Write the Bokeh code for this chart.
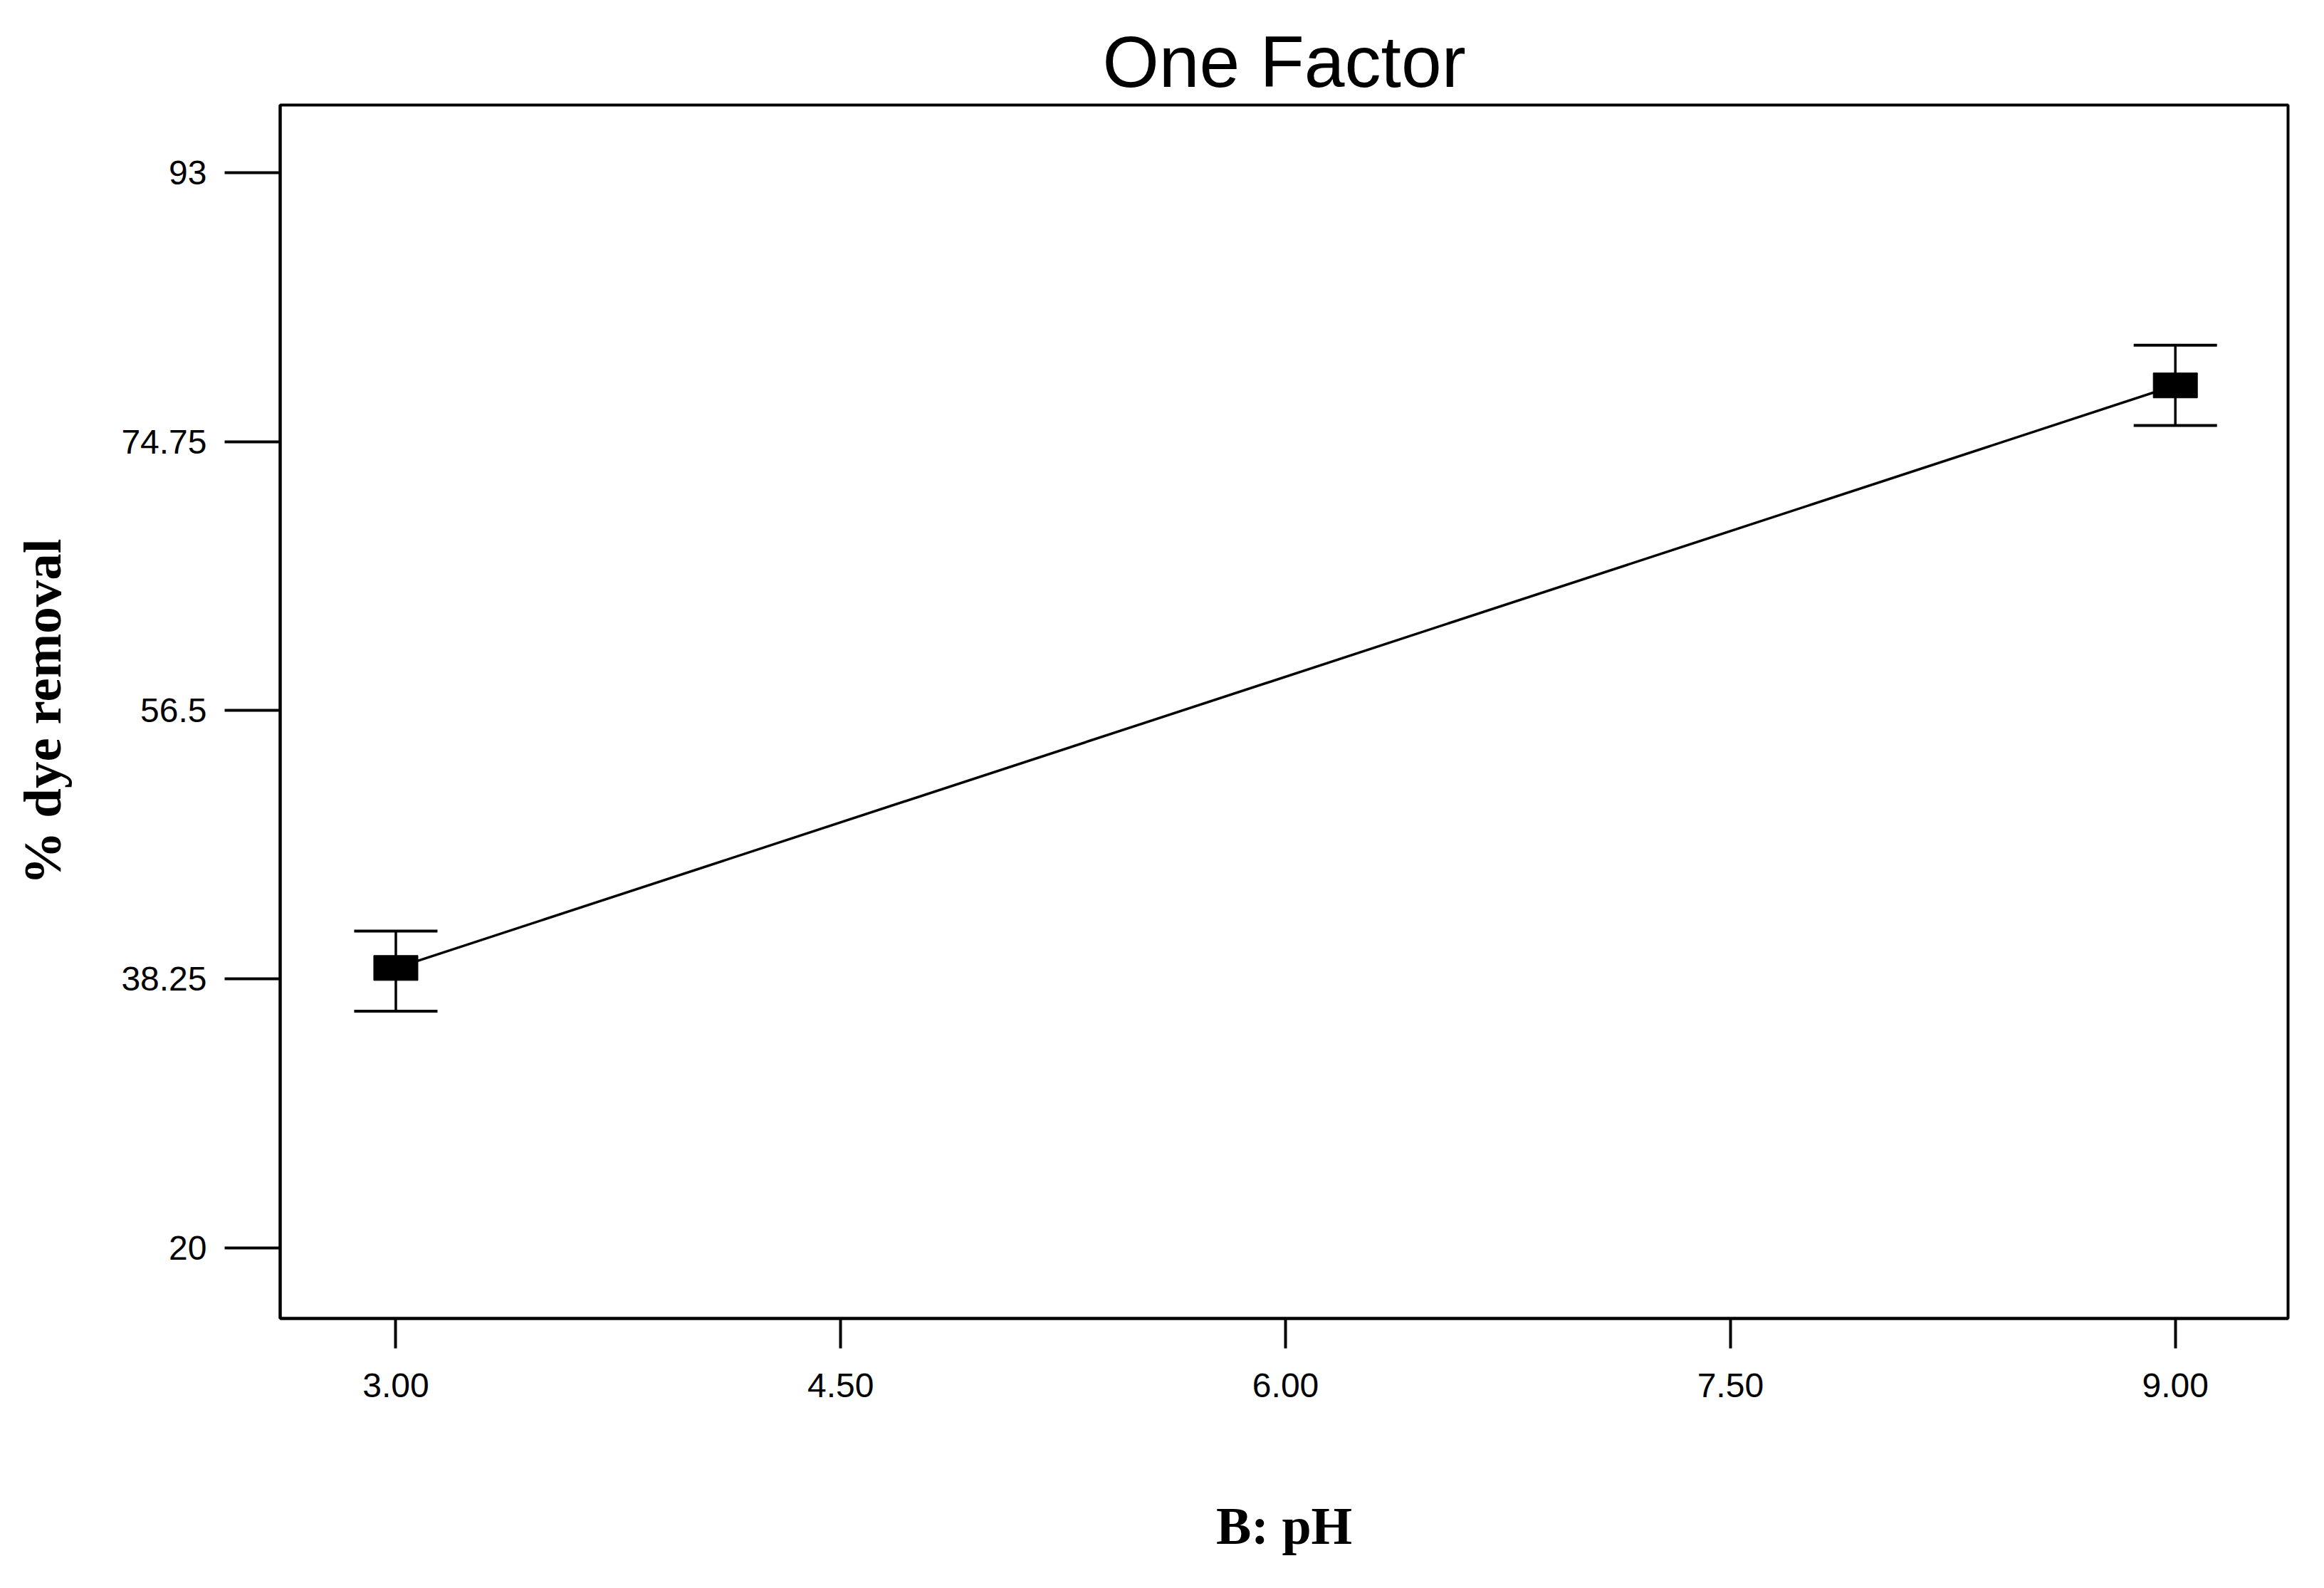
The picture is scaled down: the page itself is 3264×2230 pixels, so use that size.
from bokeh.plotting import figure
from bokeh.models import Range1d, FixedTicker, Whisker, TeeHead, ColumnDataSource
from bokeh.embed import file_html
from bokeh.resources import INLINE

# ---- data ----
ph = [3.0, 9.0]
removal = [39.0, 78.56]
lower = [36.07, 75.84]
upper = [41.51, 81.29]

x_ticks = [3.0, 4.5, 6.0, 7.5, 9.0]
x_tick_labels = ["3.00", "4.50", "6.00", "7.50", "9.00"]
y_ticks = [20.0, 38.25, 56.5, 74.75, 93.0]
y_tick_labels = ["20", "38.25", "56.5", "74.75", "93"]

title_text = "One Factor"
x_label = "B: pH"
y_label = "% dye removal"

src = ColumnDataSource(data=dict(x=ph, y=removal, lower=lower, upper=upper))

p = figure(
    frame_width=2820, frame_height=1704,
    x_range=Range1d(2.61, 9.38), y_range=Range1d(15.2, 97.6),
    output_backend="svg", toolbar_location=None,
    min_border_left=393, min_border_right=35,
    min_border_top=147, min_border_bottom=363,
    title=title_text,
    background_fill_color="white", border_fill_color="white",
)

p.title.text_font = "Liberation Sans"
p.title.text_font_size = "102px"
p.title.text_font_style = "normal"
p.title.text_color = "black"
p.title.align = "center"
p.title.standoff = 8

p.xgrid.grid_line_color = None
p.ygrid.grid_line_color = None
p.outline_line_color = "black"
p.outline_line_width = 4
p.outline_line_alpha = 1.0

for ax in (p.xaxis[0], p.yaxis[0]):
    ax.axis_line_width = 4
    ax.axis_line_color = "black"
    ax.major_tick_line_width = 4
    ax.major_tick_line_color = "black"
    ax.major_tick_in = 0
    ax.minor_tick_line_color = None
    ax.major_label_text_font = "Liberation Sans"
    ax.major_label_text_font_size = "48px"
    ax.major_label_text_color = "black"
    ax.axis_label_text_font = "Liberation Serif"
    ax.axis_label_text_font_style = "bold"
    ax.axis_label_text_color = "black"

p.xaxis.ticker = FixedTicker(ticks=x_ticks)
p.xaxis.major_label_overrides = {t: l for t, l in zip(x_ticks, x_tick_labels)}
p.xaxis.major_tick_out = 42
p.xaxis.major_label_standoff = 35
p.xaxis.axis_label = x_label
p.xaxis.axis_label_text_font_size = "74px"
p.xaxis.axis_label_standoff = 137

p.yaxis.ticker = FixedTicker(ticks=y_ticks)
p.yaxis.major_label_overrides = {t: l for t, l in zip(y_ticks, y_tick_labels)}
p.yaxis.major_tick_out = 78
p.yaxis.major_label_standoff = 25
p.yaxis.major_label_orientation = "horizontal"
p.yaxis.axis_label = y_label
p.yaxis.axis_label_text_font_size = "75px"
p.yaxis.axis_label_standoff = 66

# prediction line
p.line(ph, removal, line_width=3.5, line_color="black")

# error bars
whisker = Whisker(
    base="x", upper="upper", lower="lower", source=src,
    line_width=3.5, line_color="black",
    upper_head=TeeHead(size=117, line_width=4, line_color="black"),
    lower_head=TeeHead(size=117, line_width=4, line_color="black"),
)
p.add_layout(whisker)

# markers
p.rect(x="x", y="y", width=62, height=35, width_units="screen", height_units="screen",
       fill_color="black", line_color="black", source=src)

open("out.html", "w").write(file_html(p, INLINE))
